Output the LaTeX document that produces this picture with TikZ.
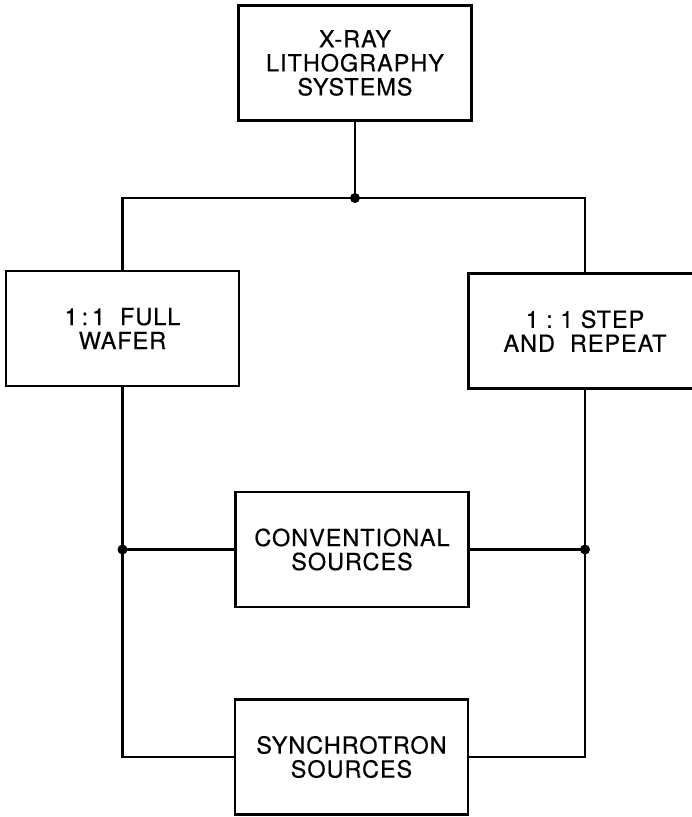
\documentclass[tikz,border=0pt]{standalone}
\usepackage{fontspec}
\setmainfont{TeX Gyre Heros}[LetterSpace=4, FakeBold=0.4]
\begin{document}
\begin{tikzpicture}[x=1pt, y=-1pt, line width=2.6pt,
        block/.style={draw, line width=2.2pt, fill=white, align=center,
            minimum width=233pt, minimum height=115pt, inner sep=0pt,
            font=\fontsize{23.5}{24}\selectfont},
        dot/.style={circle, fill, inner sep=0pt, minimum size=10pt}]
        \useasboundingbox (0,0) rectangle (692,817);
        \clip (0,0) rectangle (692,817);

        % Blocchi
        \node[block] (xray) at (355,63) {X-RAY\\LITHOGRAPHY\\SYSTEMS};
        \node[block] (full) at (122.5,328.5) {1\,:\,1\ \ FULL\\WAFER};
        \node[block] (step) at (585,331) {1\ :\ 1 STEP\\AND\ \ REPEAT};
        \node[block] (conv) at (352,549.5) {CONVENTIONAL\\SOURCES};
        \node[block] (sync) at (351.5,757) {SYNCHROTRON\\SOURCES};

        % Diramazione in alto
        \node[dot] (fork) at (xray.south |- 0,198) {};
        \draw (xray.south) -- (fork.center);
        \draw (full.north) -- (full.north |- fork) -- (step.north |- fork) -- (step.north);

        % Collegamenti alle sorgenti
        \node[dot] (jleft) at (full.south |- conv.west) {};
        \node[dot] (jright) at (step.south |- conv.east) {};
        \draw (full.south) |- (sync.west);
        \draw (step.south) |- (sync.east);
        \draw (jleft.center) -- (conv.west);
        \draw (conv.east) -- (jright.center);
    \end{tikzpicture}
\end{document}
